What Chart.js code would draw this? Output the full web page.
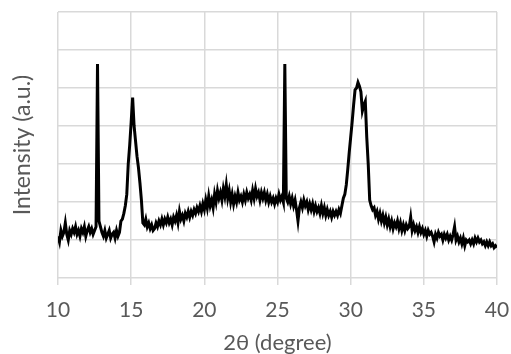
<!DOCTYPE html>
<html>
<head>
<meta charset="utf-8">
<script src="https://cdn.jsdelivr.net/npm/chart.js@4/dist/chart.umd.min.js"></script>
<style>
  html, body { margin: 0; padding: 0; background: #fff; }
  canvas { display: block; }
</style>
</head>
<body>
<canvas id="xrdChart" width="511" height="354"></canvas>
<script>
// 2θ positions (degree)
const twoTheta = [
  10.0,10.1,10.2,10.3,10.4,10.5,10.6,10.7,10.8,10.9,
  11.0,11.1,11.2,11.3,11.4,11.5,11.6,11.7,11.8,11.9,
  12.0,12.1,12.2,12.3,12.4,12.5,12.6,12.7,12.8,12.9,
  13.0,13.1,13.2,13.3,13.4,13.5,13.6,13.7,13.8,13.9,
  14.0,14.1,14.2,14.3,14.4,14.5,14.6,14.7,14.8,14.9,
  15.0,15.1,15.2,15.3,15.4,15.5,15.6,15.7,15.8,15.9,
  16.0,16.1,16.2,16.3,16.4,16.5,16.6,16.7,16.8,16.9,
  17.0,17.1,17.2,17.3,17.4,17.5,17.6,17.7,17.8,17.9,
  18.0,18.1,18.2,18.3,18.4,18.5,18.6,18.7,18.8,18.9,
  19.0,19.1,19.2,19.3,19.4,19.5,19.6,19.7,19.8,19.9,
  20.0,20.1,20.2,20.3,20.4,20.5,20.6,20.7,20.8,20.9,
  21.0,21.1,21.2,21.3,21.4,21.5,21.6,21.7,21.8,21.9,
  22.0,22.1,22.2,22.3,22.4,22.5,22.6,22.7,22.8,22.9,
  23.0,23.1,23.2,23.3,23.4,23.5,23.6,23.7,23.8,23.9,
  24.0,24.1,24.2,24.3,24.4,24.5,24.6,24.7,24.8,24.9,
  25.0,25.1,25.2,25.3,25.4,25.5,25.6,25.7,25.8,25.9,
  26.0,26.1,26.2,26.3,26.4,26.5,26.6,26.7,26.8,26.9,
  27.0,27.1,27.2,27.3,27.4,27.5,27.6,27.7,27.8,27.9,
  28.0,28.1,28.2,28.3,28.4,28.5,28.6,28.7,28.8,28.9,
  29.0,29.1,29.2,29.3,29.4,29.5,29.6,29.7,29.8,29.9,
  30.0,30.1,30.2,30.3,30.4,30.5,30.6,30.7,30.8,30.9,
  31.0,31.1,31.2,31.3,31.4,31.5,31.6,31.7,31.8,31.9,
  32.0,32.1,32.2,32.3,32.4,32.5,32.6,32.7,32.8,32.9,
  33.0,33.1,33.2,33.3,33.4,33.5,33.6,33.7,33.8,33.9,
  34.0,34.1,34.2,34.3,34.4,34.5,34.6,34.7,34.8,34.9,
  35.0,35.1,35.2,35.3,35.4,35.5,35.6,35.7,35.8,35.9,
  36.0,36.1,36.2,36.3,36.4,36.5,36.6,36.7,36.8,36.9,
  37.0,37.1,37.2,37.3,37.4,37.5,37.6,37.7,37.8,37.9,
  38.0,38.1,38.2,38.3,38.4,38.5,38.6,38.7,38.8,38.9,
  39.0,39.1,39.2,39.3,39.4,39.5,39.6,39.7,39.8,39.9,
  40.0
];

// intensity (a.u.)
const intensity = [
  11,9.5,12.5,11,12,14.5,11.5,10,12.5,11.5,
  13,12,13.5,11.5,12.5,11,13,12,13.5,11,
  12.5,13.5,12,13,11.5,12.5,13.5,56.3,15,13.5,
  12,11,12.5,10.5,11.5,12.5,10.5,11.5,12,10.5,
  12.5,11,12,15,15.5,17,19,22,30,35,
  41,47.5,40,36,32,29,25,20.5,14.5,14,
  15.5,13.5,14.5,13,14,12.5,13,14.5,13.5,15,
  14,15.5,14,15.5,14.5,16,14.5,15.5,14,16,
  15,16.5,14.5,17.5,15.5,16.5,15,17,16,17.5,
  16,17.5,16.5,18,17,18.5,17.5,19,17.5,19.5,
  18,20.5,18.5,21.5,19,20.5,18.5,22,20,23,
  21,22.5,20.5,23.5,21.5,24.5,21,23,20,22,
  19.5,21.5,20,22.5,20.5,21.5,20,22,20.5,22.5,
  21,22,20.5,23,21,23.5,21.5,22.5,20.5,22.5,
  21,22.5,20.5,22,20,21.5,20,21,19.5,21,
  20,22,20.5,21.5,20,56.3,21,20,21.5,19.5,
  21,19,20.5,18,15,18.5,20,18.5,20.5,19,
  20,18,19.5,18,19.5,17.5,19,17.5,18.5,17,
  19,17,18.5,16.5,18,16.5,17.5,16,17.5,16.5,
  17.5,16.5,18,17,19,21,22,24.5,28.5,33,
  37,41,45.5,49.5,50,51.5,50.5,49,44,45.5,
  46.5,37,30,20.5,19,18,18.5,16.5,17.5,15.5,
  17,15,16.5,14.5,16,14,15.5,13.5,15,13,
  14.5,13.5,15,13,14.5,12.5,14,12.5,14,13,
  13.5,16,12.5,14,12.5,13.5,12,13.5,12,13,
  11.5,12.5,11,12.5,11.5,12,11,9.5,11.5,10.5,
  12,11,11.5,10,11.5,10.5,11.5,10,11,10,
  11.5,13.5,10,11,9.5,10.5,9,10.5,8.5,10,
  9.5,10,9,10,9,10.5,9.5,10.5,9.5,10,
  9,9.5,8.5,9.5,8.5,9.5,8.5,9,8,8.5,
  8
];

const xTicks = [10, 15, 20, 25, 30, 35, 40];

const gridColor = '#d9d9d9';
const textColor = '#595959';
const fontFamily = 'Lato, "Open Sans", sans-serif';

const points = twoTheta.map((x, i) => ({ x, y: intensity[i] }));

new Chart(document.getElementById('xrdChart').getContext('2d'), {
    type: 'line',
    data: {
        datasets: [{
            data: points,
            borderColor: '#000',
            borderWidth: 3,
            pointRadius: 0,
            tension: 0,
            fill: false
        }]
    },
    options: {
        responsive: false,
        animation: false,
        layout: { padding: { top: 12, right: 14, left: 0, bottom: 0 } },
        plugins: { legend: { display: false }, tooltip: { enabled: false } },
        scales: {
            x: {
                type: 'linear',
                min: xTicks[0], max: xTicks[xTicks.length - 1],
                afterBuildTicks: s => { s.ticks = xTicks.map(v => ({ value: v })); },
                afterFit: s => { s.height = 76; s.paddingLeft = 0; s.paddingRight = 0; },
                ticks: { color: textColor, font: { family: fontFamily, size: 21 }, padding: 13, maxRotation: 0 },
                grid: { color: gridColor, lineWidth: 1.5, tickLength: 7 },
                border: { display: false },
                title: {
                    display: true, text: '2θ (degree)', color: textColor,
                    font: { family: fontFamily, size: 22, lineHeight: 1 }, padding: { top: 0, bottom: 0 }
                }
            },
            y: {
                min: 0, max: 70,
                afterFit: s => { s.width = 58; },
                ticks: { display: false, stepSize: 10 },
                grid: { color: gridColor, lineWidth: 1.5, drawTicks: false },
                border: { display: false },
                title: {
                    display: true, text: 'Intensity (a.u.)', color: textColor,
                    font: { family: fontFamily, size: 23 }, padding: { top: 9, bottom: 0 }
                }
            }
        }
    }
});
</script>
</body>
</html>
